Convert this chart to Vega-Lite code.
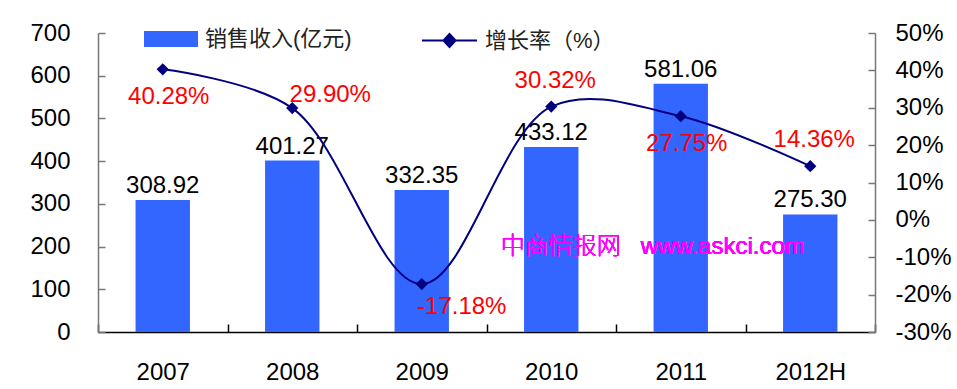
{
  "$schema": "https://vega.github.io/schema/vega-lite/v6.json",
  "width": 777,
  "height": 299,
  "autosize": {"type": "none"},
  "padding": {"left": 98, "top": 33, "right": 82, "bottom": 57},
  "background": "white",
  "config": {
    "font": "Liberation Sans, Noto Sans CJK SC",
    "view": {"stroke": null},
    "axis": {
      "grid": false,
      "title": null,
      "labelFont": "Liberation Sans",
      "labelFontSize": 24,
      "labelColor": "#000000",
      "domainWidth": 1.5,
      "tickWidth": 1.5
    },
    "legend": {
      "orient": "none",
      "title": null,
      "padding": 0,
      "labelFont": "Liberation Sans, Noto Sans CJK SC",
      "labelFontSize": 22,
      "labelColor": "#222222",
      "labelOffset": 7
    }
  },
  "data": {
    "values": [
      {"year": "2007", "revenue": 308.92, "growth": 0.4028},
      {"year": "2008", "revenue": 401.27, "growth": 0.2990},
      {"year": "2009", "revenue": 332.35, "growth": -0.1718},
      {"year": "2010", "revenue": 433.12, "growth": 0.3032},
      {"year": "2011", "revenue": 581.06, "growth": 0.2775},
      {"year": "2012H", "revenue": 275.30, "growth": 0.1436}
    ]
  },
  "transform": [
    {"calculate": "format(datum.revenue, '.2f')", "as": "revenueLabel"},
    {"calculate": "replace(format(datum.growth, '.2%'), '\u2212', '-')", "as": "growthLabel"}
  ],
  "encoding": {
    "x": {
      "field": "year",
      "type": "nominal",
      "sort": null,
      "scale": {"paddingInner": 0, "paddingOuter": 0},
      "axis": {
        "orient": "bottom",
        "labelAngle": 0,
        "labelPadding": 36,
        "tickBand": "extent",
        "tickSize": -8,
        "domainColor": "#000000",
        "tickColor": "#000000"
      }
    }
  },
  "layer": [
    {
      "encoding": {
        "y": {
          "field": "revenue",
          "type": "quantitative",
          "scale": {"domain": [0, 700], "nice": false, "zero": true},
          "axis": {
            "orient": "left",
            "values": [0, 100, 200, 300, 400, 500, 600, 700],
            "tickSize": -7,
            "labelPadding": 35,
            "domainColor": "#777777",
            "tickColor": "#777777"
          }
        }
      },
      "layer": [
        {
          "mark": {"type": "bar", "width": {"band": 0.42}},
          "encoding": {
            "fill": {
              "datum": "销售收入(亿元)",
              "scale": {"range": ["#3366FF"]},
              "legend": {
                "legendX": 46,
                "legendY": -21,
                "symbolType": "M-1,-0.3H1V0.3H-1Z",
                "symbolSize": 2916,
                "symbolStrokeWidth": 0
              }
            }
          }
        },
        {
          "mark": {"type": "text", "baseline": "bottom", "dy": -2, "fontSize": 24, "font": "Liberation Sans", "color": "#000000"},
          "encoding": {"text": {"field": "revenueLabel"}}
        },
        {
          "mark": {
            "type": "text",
            "text": "中商情报网\u00a0\u00a0\u00a0www.askci.com",
            "align": "center",
            "baseline": "middle",
            "dx": -28,
            "fontSize": 24,
            "fontWeight": 300,
            "color": "#FF00FF"
          },
          "encoding": {
            "x": {"datum": "2011"},
            "y": {"datum": 200}
          }
        }
      ]
    },
    {
      "encoding": {
        "y": {
          "field": "growth",
          "type": "quantitative",
          "scale": {"domain": [-0.3, 0.5], "nice": false, "zero": false},
          "axis": {
            "orient": "right",
            "values": [-0.3, -0.2, -0.1, 0, 0.1, 0.2, 0.3, 0.4, 0.5],
            "labelExpr": "replace(format(datum.value, '.0%'), '\u2212', '-')",
            "tickSize": -7,
            "labelPadding": 27,
            "domainColor": "#777777",
            "tickColor": "#777777"
          }
        }
      },
      "layer": [
        {
          "mark": {"type": "line", "interpolate": "catmull-rom", "strokeWidth": 2},
          "encoding": {
            "stroke": {
              "datum": "增长率（%）",
              "scale": {"range": ["#000080"]},
              "legend": {
                "legendX": 323,
                "legendY": -21,
                "symbolType": "M-1,0H1M0,-0.24L0.22,0L0,0.24L-0.22,0Z",
                "symbolSize": 3025,
                "symbolStrokeWidth": 2,
                "symbolFillColor": "#000080",
                "symbolStrokeColor": "#000080",
                "encode": {"symbols": {"update": {"fill": {"value": "#000080"}}}}
              }
            }
          }
        },
        {
          "mark": {"type": "point", "shape": "diamond", "filled": true, "size": 150, "color": "#000080", "opacity": 1}
        },
        {
          "transform": [{"filter": "datum.year == '2007' || datum.year == '2011'"}],
          "mark": {"type": "text", "baseline": "middle", "dx": 6, "dy": 28, "fontSize": 24, "font": "Liberation Sans", "color": "#FF0000"},
          "encoding": {"text": {"field": "growthLabel"}}
        },
        {
          "transform": [{"filter": "datum.year == '2009'"}],
          "mark": {"type": "text", "baseline": "middle", "dx": 40, "dy": 23, "fontSize": 24, "font": "Liberation Sans", "color": "#FF0000"},
          "encoding": {"text": {"field": "growthLabel"}}
        },
        {
          "transform": [{"filter": "datum.year == '2010' || datum.year == '2012H'"}],
          "mark": {"type": "text", "baseline": "middle", "dx": 4, "dy": -26, "fontSize": 24, "font": "Liberation Sans", "color": "#FF0000"},
          "encoding": {"text": {"field": "growthLabel"}}
        },
        {
          "transform": [{"filter": "datum.year == '2008'"}],
          "mark": {"type": "text", "baseline": "middle", "dx": 38, "dy": -13, "fontSize": 24, "font": "Liberation Sans", "color": "#FF0000"},
          "encoding": {"text": {"field": "growthLabel"}}
        }
      ]
    }
  ],
  "resolve": {"scale": {"y": "independent", "fill": "independent", "stroke": "independent"}}
}
